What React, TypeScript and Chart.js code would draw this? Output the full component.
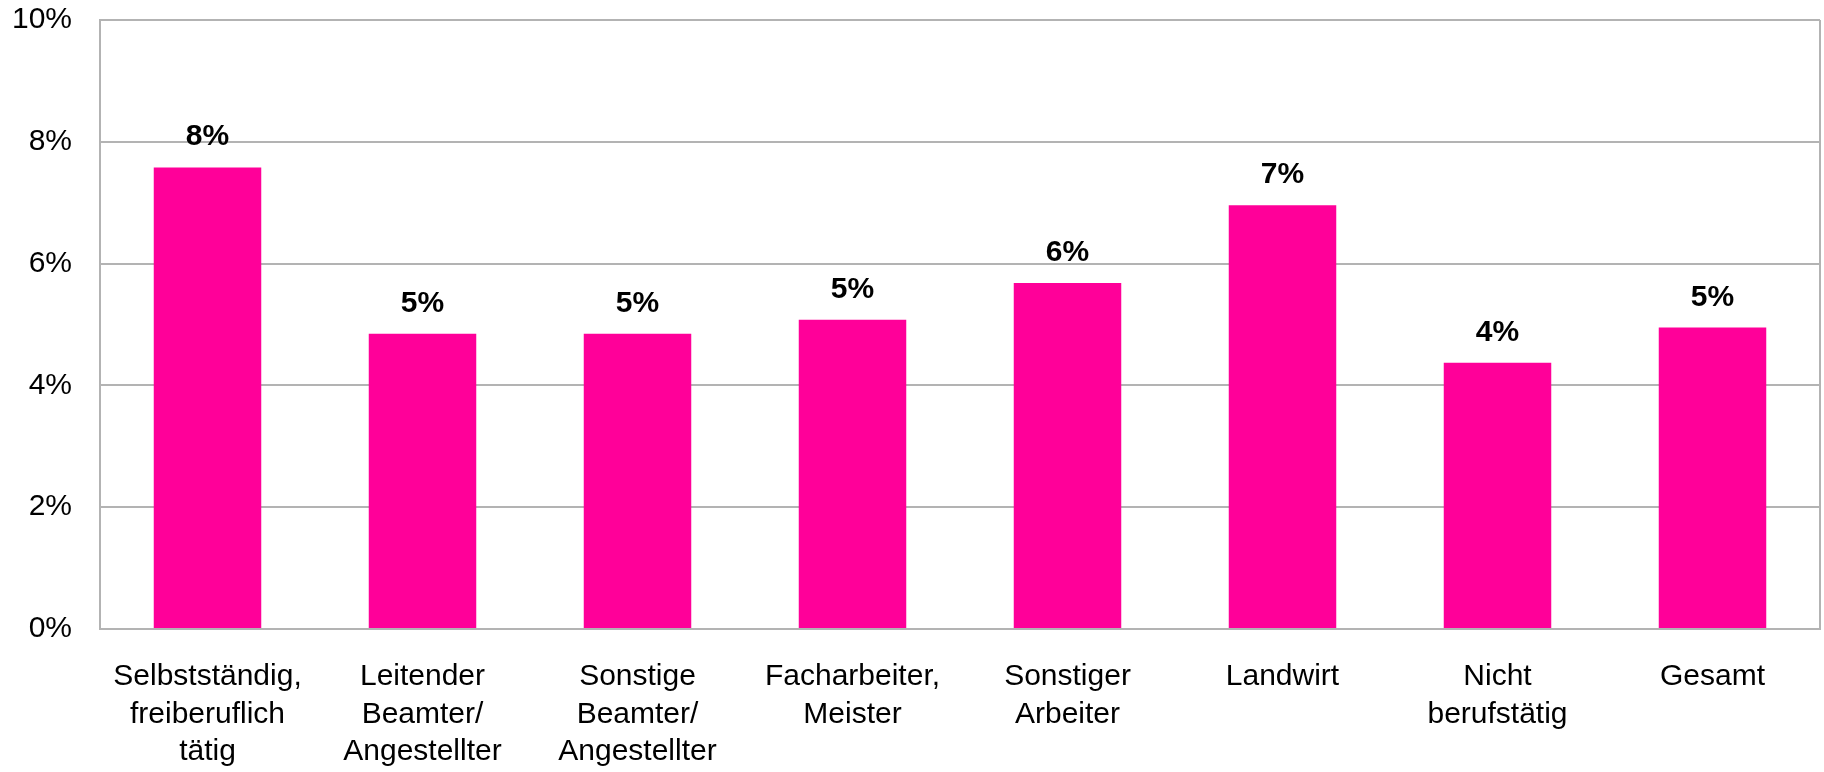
import React, { useEffect, useRef } from "react";
import { Chart, registerables } from "chart.js";

Chart.register(...registerables);

const categories: string[][] = [
  ["Selbstständig,", "freiberuflich", "tätig"],
  ["Leitender", "Beamter/", "Angestellter"],
  ["Sonstige", "Beamter/", "Angestellter"],
  ["Facharbeiter,", "Meister"],
  ["Sonstiger", "Arbeiter"],
  ["Landwirt"],
  ["Nicht", "berufstätig"],
  ["Gesamt"],
];

const values: number[] = [7.58, 4.85, 4.85, 5.08, 5.68, 6.96, 4.37, 4.95];

const yTicks: number[] = [0, 2, 4, 6, 8, 10];

const FONT = "'Liberation Sans', Arial, sans-serif";

const frame = {
  id: "frame",
  afterDraw(chart: any) {
    const { ctx, chartArea } = chart;
    ctx.save();
    ctx.strokeStyle = "#b3b3b3";
    ctx.lineWidth = 2;
    ctx.beginPath();
    ctx.moveTo(chartArea.right, chartArea.top);
    ctx.lineTo(chartArea.right, chartArea.bottom);
    ctx.stroke();
    ctx.restore();
  },
};

const dataLabels = {
  id: "dataLabels",
  afterDatasetsDraw(chart: any) {
    const { ctx } = chart;
    const meta = chart.getDatasetMeta(0);
    ctx.save();
    ctx.font = `bold 30px ${FONT}`;
    ctx.fillStyle = "#000";
    ctx.textAlign = "center";
    ctx.textBaseline = "alphabetic";
    meta.data.forEach((bar: any, i: number) => {
      const v = chart.data.datasets[0].data[i] as number;
      ctx.fillText(`${Math.round(v)}%`, bar.x, bar.y - 22);
    });
    ctx.restore();
  },
};

export default function App() {
  const ref = useRef<HTMLCanvasElement>(null);

  useEffect(() => {
    document.body.style.margin = "0";
    const chart = new Chart(ref.current!, {
      type: "bar",
      data: {
        labels: categories,
        datasets: [
          {
            data: values,
            backgroundColor: "#FF0099",
            borderWidth: 0,
            barPercentage: 0.5,
            categoryPercentage: 1,
          },
        ],
      },
      options: {
        animation: false,
        responsive: false,
        maintainAspectRatio: false,
        layout: { autoPadding: false, padding: { top: 20, right: 4, left: 0, bottom: 0 } },
        plugins: { legend: { display: false }, tooltip: { enabled: false }, title: { display: false } },
        scales: {
          x: {
            grid: { display: false, drawTicks: false },
            border: { color: "#b3b3b3", width: 2 },
            ticks: {
              color: "#000",
              font: { family: FONT, size: 30, lineHeight: 1.25 },
              padding: 29,
              maxRotation: 0,
              autoSkip: false,
            },
            afterFit(scale: any) {
              scale.height = 143;
              scale.paddingLeft = 0;
              scale.paddingRight = 0;
            },
          },
          y: {
            min: 0,
            max: 10,
            afterBuildTicks(scale: any) {
              scale.ticks = yTicks.map((v) => ({ value: v }));
            },
            grid: { color: "#b3b3b3", lineWidth: 2, drawTicks: false },
            border: { color: "#b3b3b3", width: 2 },
            ticks: {
              color: "#000",
              font: { family: FONT, size: 30 },
              padding: 28,
              callback: (v: any) => `${v}%`,
            },
            afterFit(scale: any) {
              scale.width = 100;
              scale.paddingTop = 0;
              scale.paddingBottom = 0;
            },
          },
        },
      },
      plugins: [frame, dataLabels],
    });
    return () => chart.destroy();
  }, []);

  return (
    <div style={{ position: "absolute", left: 0, top: 0, width: 1824, height: 772, background: "#fff" }}>
      <canvas ref={ref} width={1824} height={772} style={{ display: "block", width: 1824, height: 772 }} />
    </div>
  );
}
